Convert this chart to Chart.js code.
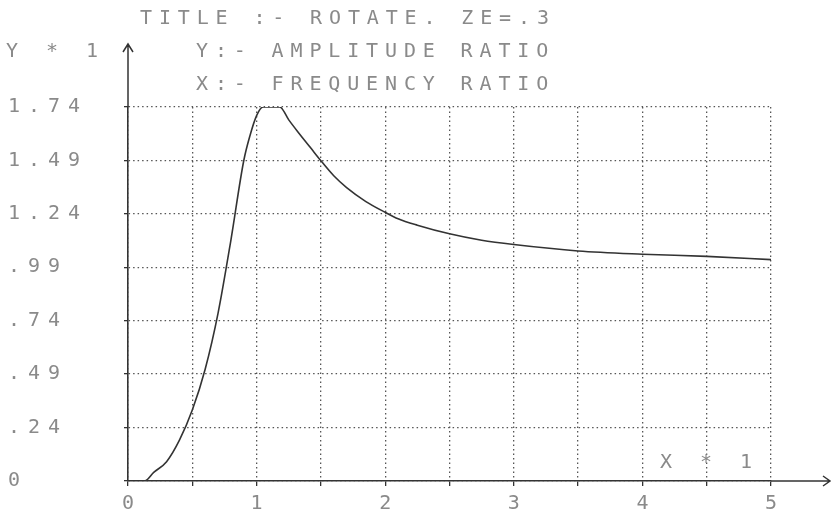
<!DOCTYPE html>
<html>
<head>
<meta charset="utf-8">
<script src="https://cdn.jsdelivr.net/npm/chart.js@4/dist/chart.umd.min.js"></script>
<style>
    html, body { margin: 0; padding: 0; background: #fff; }
    #wrap { width: 834px; height: 518px; }
</style>
</head>
<body>
<div id="wrap"><canvas id="plot" width="834" height="518"></canvas></div>
<script>
// ---- data ----
const freqRatio = [0, 0.13, 0.2, 0.3, 0.4, 0.5, 0.6, 0.7, 0.8, 0.9, 0.95, 1.0, 1.05, 1.1, 1.18, 1.25, 1.32, 1.42, 1.5, 1.6, 1.7, 1.85, 2.0, 2.1, 2.25, 2.5, 2.75, 3.0, 3.5, 4.0, 4.5, 5.0];
const ampRatio  = [0, 0, 0.04, 0.09, 0.19, 0.33, 0.52, 0.78, 1.12, 1.49, 1.61, 1.70, 1.74, 1.74, 1.74, 1.68, 1.625, 1.55, 1.49, 1.42, 1.365, 1.30, 1.25, 1.22, 1.19, 1.15, 1.12, 1.10, 1.07, 1.055, 1.045, 1.03];
const yTickLabels = ['0', '.24', '.49', '.74', '.99', '1.24', '1.49', '1.74'];
const xTickLabels = ['0', '1', '2', '3', '4', '5'];
const titleLines = ['TITLE :- ROTATE. ZE=.3', 'Y:- AMPLITUDE RATIO', 'X:- FREQUENCY RATIO'];

const INK = '#333';
const TEXT = '#8a8a8a';
const MONO = '"DejaVu Sans Mono", "Liberation Mono", monospace';
const Y_MAX = 1.74;
const Y_STEP = Y_MAX / 7;

// dot-matrix style text: fixed character pitch
function dotText(ctx, str, x, y, pitch) {
    for (let i = 0; i < str.length; i++) {
        ctx.fillText(str[i], x + i * pitch, y);
    }
}

// canvas resize wipes ctx state, so re-apply the wide printer spacing each pass
const spacing = {
    id: 'spacing',
    beforeUpdate(chart) { chart.ctx.letterSpacing = '8px'; },
    beforeLayout(chart) { chart.ctx.letterSpacing = '8px'; },
    beforeDraw(chart) { chart.ctx.letterSpacing = '8px'; },
};

const decorations = {
    id: 'decorations',
    afterDraw(chart) {
        const ctx = chart.ctx;
        const a = chart.chartArea;
        ctx.save();
        ctx.letterSpacing = '0px';
        // axis arrows
        ctx.strokeStyle = INK;
        ctx.lineWidth = 1.5;
        ctx.beginPath();
        ctx.moveTo(a.left, a.top);
        ctx.lineTo(a.left, 44);
        ctx.moveTo(a.left - 5, 52);
        ctx.lineTo(a.left, 44);
        ctx.lineTo(a.left + 5, 52);
        ctx.moveTo(a.right, a.bottom);
        ctx.lineTo(830, a.bottom);
        ctx.moveTo(823, a.bottom - 5);
        ctx.lineTo(830, a.bottom);
        ctx.lineTo(823, a.bottom + 5);
        ctx.stroke();

        // header text
        ctx.fillStyle = TEXT;
        ctx.font = '20px ' + MONO;
        ctx.textBaseline = 'middle';
        ctx.textAlign = 'left';
        dotText(ctx, titleLines[0], 140, 19, 18.9);
        dotText(ctx, titleLines[1], 196, 52, 18.9);
        dotText(ctx, titleLines[2], 196, 85, 18.9);
        dotText(ctx, 'Y * 1', 6, 52, 20);
        dotText(ctx, 'X * 1', 660, 463, 20);
        ctx.restore();
    }
};

function init() {
    const el = document.getElementById('plot');

    new Chart(el.getContext('2d'), {
        type: 'line',
        data: {
            datasets: [{
                data: freqRatio.map((x, i) => ({ x, y: ampRatio[i] })),
                borderColor: INK,
                borderWidth: 1.6,
                pointRadius: 0,
                cubicInterpolationMode: 'monotone',
                fill: false,
            }]
        },
        options: {
            responsive: false,
            animation: false,
            devicePixelRatio: 1,
            layout: { padding: { left: 8, top: 107, right: 63, bottom: 0 } },
            plugins: {
                legend: { display: false },
                tooltip: { enabled: false },
            },
            scales: {
                x: {
                    type: 'linear',
                    min: 0,
                    max: 5,
                    afterFit(s) { s.height = 37; },
                    afterBuildTicks(s) {
                        s.ticks = [];
                        for (let i = 0; i <= 10; i++) s.ticks.push({ value: i * 0.5 });
                    },
                    ticks: {
                        autoSkip: false,
                        maxRotation: 0,
                        padding: 6,
                        labelOffset: 4,
                        color: TEXT,
                        font: { family: MONO, size: 20 },
                        callback: (v) => Number.isInteger(v) ? xTickLabels[v] : '',
                    },
                    grid: {
                        color: '#555',
                        lineWidth: 1.3,
                        drawTicks: true,
                        tickLength: 5,
                        tickColor: INK,
                    },
                    border: { display: true, color: INK, width: 1.5, dash: [1.5, 3] },
                },
                y: {
                    type: 'linear',
                    min: 0,
                    max: Y_MAX,
                    afterFit(s) { s.width = 120; },
                    afterBuildTicks(s) {
                        s.ticks = yTickLabels.map((_, i) => ({ value: i * Y_STEP }));
                    },
                    ticks: {
                        autoSkip: false,
                        crossAlign: 'far',
                        color: TEXT,
                        font: { family: MONO, size: 20 },
                        callback: (v, i) => yTickLabels[i],
                    },
                    grid: {
                        color: '#555',
                        lineWidth: 1.3,
                        drawTicks: true,
                        tickLength: 4,
                        tickColor: INK,
                    },
                    border: { display: true, color: INK, width: 1.6, dash: [1.5, 3] },
                }
            }
        },
        plugins: [spacing, decorations]
    });
}

init();
</script>
</body>
</html>
